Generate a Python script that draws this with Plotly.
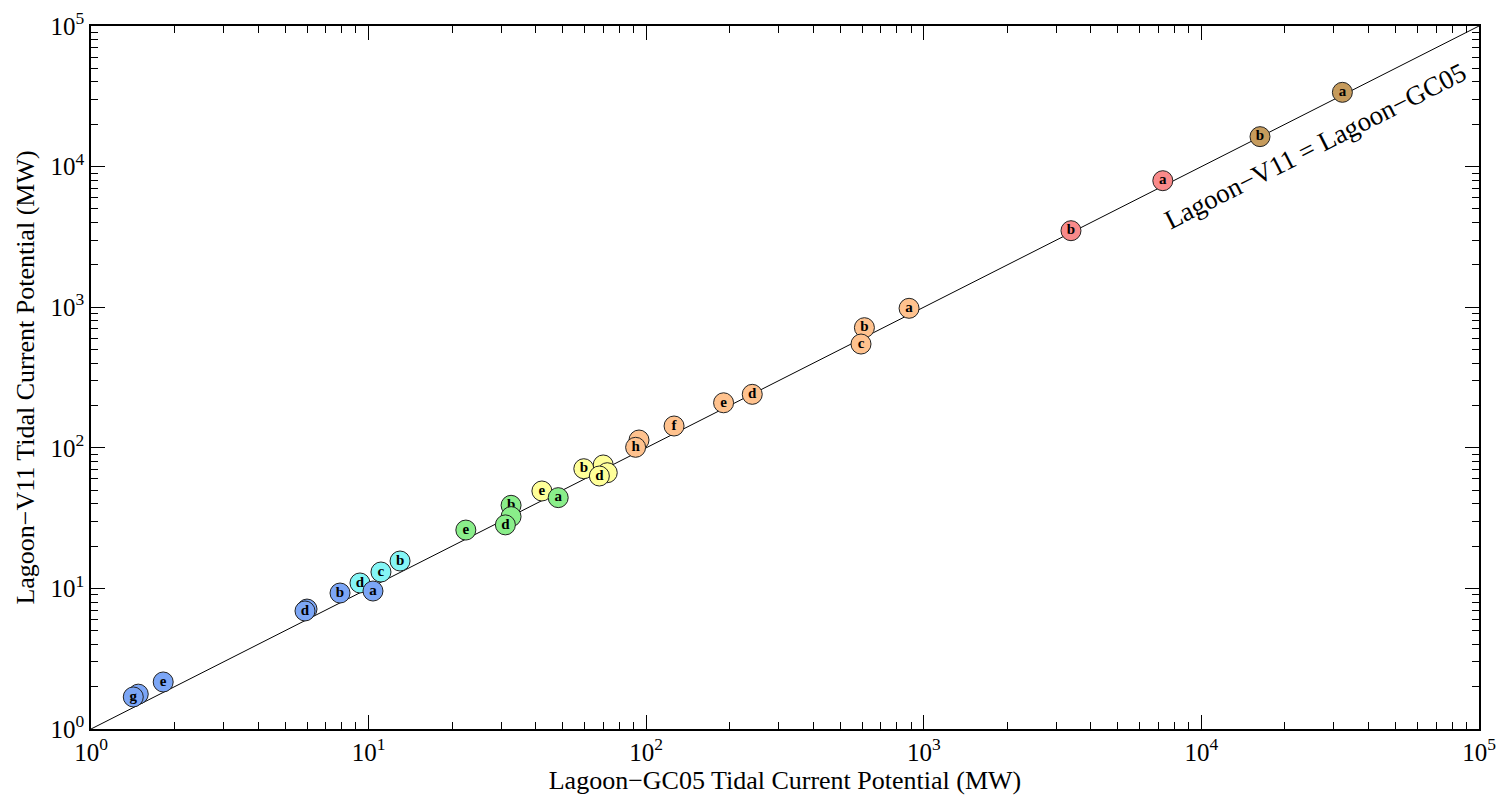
import plotly.graph_objects as go

# Tidal current potential (MW) for each site under the two lagoon models
groups = ["cyan", "cyan", "cyan",
          "blue", "blue", "blue", "blue", "blue", "blue", "blue",
          "yellow", "yellow", "yellow", "yellow", "yellow",
          "green", "green", "green", "green", "green",
          "orange", "orange", "orange", "orange", "orange", "orange", "orange", "orange",
          "red", "red",
          "brown", "brown"]
labels = ["d", "c", "b",
          "", "g", "e", "", "d", "b", "a",
          "e", "", "", "b", "d",
          "e", "b", "", "d", "a",
          "", "h", "f", "e", "d", "b", "c", "a",
          "b", "a",
          "b", "a"]
gc05 = [9.31, 11.08, 12.98,
        1.48, 1.42, 1.82, 6.0, 5.90, 7.89, 10.37,
        42.1, 70.0, 72.4, 59.6, 67.8,
        22.4, 32.6, 32.6, 31.1, 48.2,
        94.2, 91.6, 126, 190, 241, 611, 594, 885,
        3390, 7260,
        16260, 32200]
v11 = [10.93, 13.08, 15.66,
       1.77, 1.69, 2.16, 7.13, 6.91, 9.27, 9.58,
       49.3, 75.5, 66.5, 71.0, 63.0,
       26.0, 39.0, 32.4, 28.3, 44.2,
       113.6, 100.8, 142.9, 209, 240, 715, 547, 982,
       3500, 7940,
       16330, 33750]

palette = {
    "blue": "#7ca6f6",
    "cyan": "#84f6f6",
    "green": "#8aee8a",
    "yellow": "#ffff99",
    "orange": "#ffc28e",
    "red": "#f98a8a",
    "brown": "#c69b5c",
}

one_to_one = [1, 1e5]
decades = [1, 10, 100, 1000, 10000, 100000]
decade_text = ["10<sup>%d</sup>" % k for k in range(6)]

FONT = "Liberation Serif, Times New Roman, serif"

fig = go.Figure()

# 1:1 reference line
fig.add_trace(go.Scatter(x=one_to_one, y=one_to_one, mode="lines",
                         line=dict(color="black", width=1), hoverinfo="skip",
                         showlegend=False))

# one trace per site so later markers (and their letters) sit on top
for g, lab, xv, yv in zip(groups, labels, gc05, v11):
    marker = dict(size=20, color=palette[g], line=dict(color="#222222", width=1))
    if lab:
        fig.add_trace(go.Scatter(
            x=[xv], y=[yv], mode="markers+text",
            text=["<b>%s</b>" % lab],
            textposition="middle center",
            textfont=dict(family=FONT, size=15, color="black"),
            marker=marker, showlegend=False,
        ))
    else:
        fig.add_trace(go.Scatter(x=[xv], y=[yv], mode="markers",
                                 marker=marker, showlegend=False))

fig.add_annotation(x=4.41, y=4.15, xref="x", yref="y",
                   text="Lagoon\u2212V11 = Lagoon\u2212GC05", showarrow=False,
                   textangle=-26.9, font=dict(family=FONT, size=27, color="black"))

axis_common = dict(
    type="log",
    tickmode="array",
    tickvals=decades,
    ticktext=decade_text,
    ticks="inside",
    ticklen=14,
    tickwidth=1,
    tickcolor="black",
    showline=True,
    linecolor="black",
    linewidth=1.6,
    mirror="ticks",
    showgrid=False,
    zeroline=False,
    automargin=False,
    tickfont=dict(family=FONT, size=25, color="black"),
    minor=dict(ticks="inside", ticklen=7, tickwidth=1, tickcolor="black",
               dtick="D1", showgrid=False),
)

fig.update_xaxes(range=[0, 5], **axis_common,
                 title=dict(text="Lagoon\u2212GC05 Tidal Current Potential (MW)",
                            font=dict(family=FONT, size=26, color="black"),
                            standoff=6))
fig.update_yaxes(range=[0, 5], **axis_common,
                 title=dict(text="Lagoon\u2212V11 Tidal Current Potential (MW)",
                            font=dict(family=FONT, size=26, color="black"),
                            standoff=8))

fig.update_layout(
    width=1503, height=801,
    margin=dict(l=91, r=24, t=26, b=72),
    paper_bgcolor="white",
    plot_bgcolor="white",
    font=dict(family=FONT, color="black"),
)

fig.write_html("out.html")
